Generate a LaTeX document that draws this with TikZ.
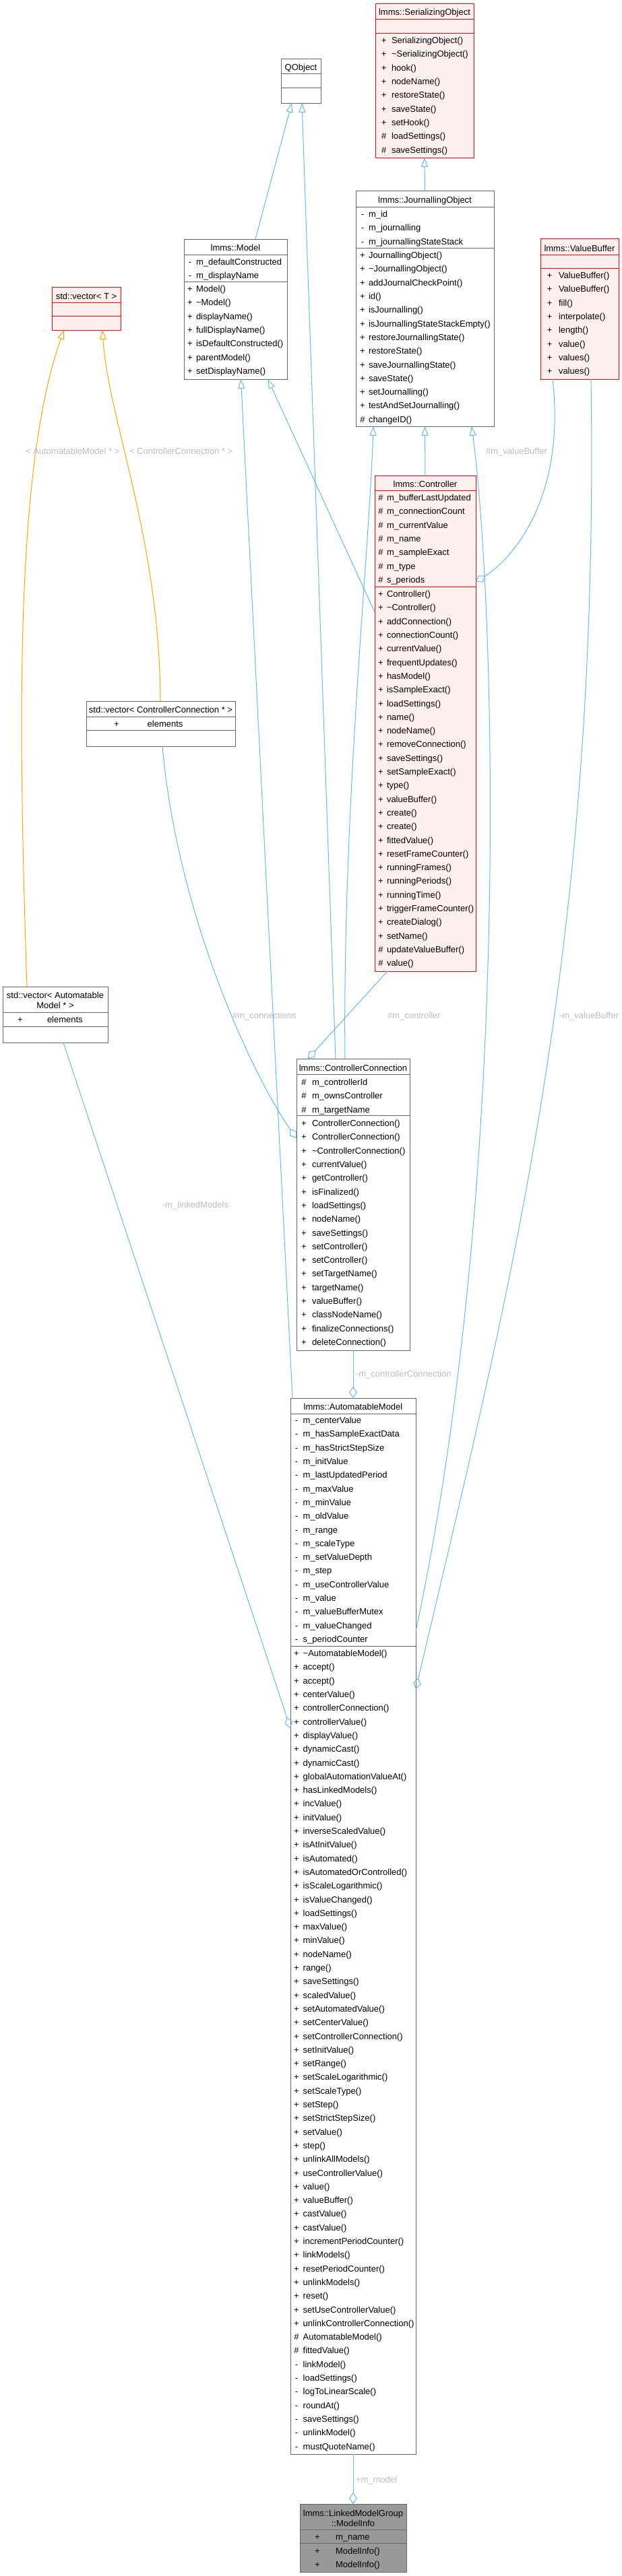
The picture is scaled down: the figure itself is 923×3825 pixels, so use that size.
\documentclass[tikz,border=0pt]{standalone}
\usepackage{fontspec}
\setmainfont{Liberation Sans}
\usetikzlibrary{arrows.meta,calc}
\definecolor{eblue}{HTML}{63B8FF}
\definecolor{eorange}{HTML}{FFA500}
\definecolor{rline}{HTML}{FF0000}
\definecolor{rfill}{HTML}{FFF0F0}
\definecolor{gline}{HTML}{666666}
\definecolor{dfill}{HTML}{999999}
\definecolor{lgray}{HTML}{BEBEBE}
\tikzset{
  ubox/.style={rectangle, line width=1pt, inner sep=0pt, outer sep=0pt},
  boxred/.style={ubox, draw=rline, fill=rfill},
  boxgray/.style={ubox, draw=gline, fill=white},
  boxdark/.style={ubox, draw=gline, fill=dfill},
  sepred/.style={draw=rline, line width=1pt},
  sepgray/.style={draw=gline, line width=1pt},
  rowtxt/.style={inner sep=0pt, outer sep=0pt, font=\fontsize{13}{15}\selectfont},
  lbl/.style={rowtxt, text=lgray},
  edgeb/.style={draw=eblue, line width=1pt},
  inh/.style={edgeb, -{Triangle[open, length=14pt, width=10pt]}},
  agg/.style={edgeb, -{Diamond[open, length=17pt, width=12pt]}},
  tmpl/.style={draw=eorange, line width=1pt, -{Triangle[open, length=14pt, width=10pt]}},
}
% #1 id, #2 style, #3 x1, #4 y1, #5 x2, #6 y2
\newcommand{\umlframe}[6]{\node[#2, anchor=north west, minimum width={(#5-#3)*1pt}, minimum height={(#6-#4)*1pt}] (#1) at (#3,#4) {};}
% #1 style, #2 node, #3 y
\newcommand{\usep}[3]{\draw[#1] (#2.west |- 0,#3) -- (#2.east |- 0,#3);}
% #1 id, #2 sym centre x, #3 name x, #4 first row centre y, #5 pitch, #6 list
\newcommand{\urows}[6]{\foreach[count=\i] \sy/\tx in {#6}{%
  \node[rowtxt, anchor=base] (#1s\i) at (#2,{#4+(\i-1)*#5+4.6}) {\sy};
  \node[rowtxt, anchor=base west] (#1n\i) at (#3,{#4+(\i-1)*#5+4.6}) {\tx};}}
\begin{document}
\begin{tikzpicture}[x=1pt,y=-1pt]
\fill[white] (0,0) rectangle (923,3825);
\useasboundingbox (0,0) rectangle (923,3825);

% ---------- lmms::SerializingObject
\umlframe{so}{boxred}{557}{5}{703}{234}
\node[rowtxt, anchor=base] (sot) at (630,22.6) {lmms::SerializingObject};
\usep{sepred}{so}{28}\usep{sepred}{so}{49}
\urows{som}{569.7}{581}{60}{20.3}{+/SerializingObject(), +/\textasciitilde SerializingObject(), +/hook(), +/nodeName(), +/restoreState(), +/saveState(), +/setHook(), \#/loadSettings(), \#/saveSettings()}

% ---------- QObject
\umlframe{qo}{boxgray}{417}{87}{476}{153}
\node[rowtxt, anchor=base] (qot) at (446.5,104.6) {QObject};
\usep{sepgray}{qo}{109}\usep{sepgray}{qo}{130}

% ---------- lmms::Model
\umlframe{mo}{boxgray}{273}{355}{426}{563}
\node[rowtxt, anchor=base] (mot) at (349.5,372.6) {lmms::Model};
\usep{sepgray}{mo}{378}\usep{sepgray}{mo}{418}
\urows{moa}{282}{291}{389}{20.3}{-/m\_defaultConstructed, -/m\_displayName}
\urows{mom}{282}{291}{429}{20.3}{+/Model(), +/\textasciitilde Model(), +/displayName(), +/fullDisplayName(), +/isDefaultConstructed(), +/parentModel(), +/setDisplayName()}

% ---------- lmms::JournallingObject
\umlframe{jo}{boxgray}{528}{283}{733}{633}
\node[rowtxt, anchor=base] (jot) at (630.5,301.3) {lmms::JournallingObject};
\usep{sepgray}{jo}{307}\usep{sepgray}{jo}{368}
\urows{joa}{538}{547}{318}{20.3}{-/m\_id, -/m\_journalling, -/m\_journallingStateStack}
\urows{jom}{538}{547}{379}{20.3}{+/JournallingObject(), +/\textasciitilde JournallingObject(), +/addJournalCheckPoint(), +/id(), +/isJournalling(), +/isJournallingStateStackEmpty(), +/restoreJournallingState(), +/restoreState(), +/saveJournallingState(), +/saveState(), +/setJournalling(), +/testAndSetJournalling(), \#/changeID()}

% ---------- lmms::ValueBuffer
\umlframe{vb}{boxred}{802}{354}{918}{563}
\node[rowtxt, anchor=base] (vbt) at (860,373.3) {lmms::ValueBuffer};
\usep{sepred}{vb}{378}\usep{sepred}{vb}{398}
\urows{vbm}{815.7}{829}{409}{20.3}{+/ValueBuffer(), +/ValueBuffer(), +/fill(), +/interpolate(), +/length(), +/value(), +/values(), +/values()}

% ---------- std::vector< T >
\umlframe{vt}{boxred}{77}{426}{179}{490}
\node[rowtxt, anchor=base] (vtt) at (128,444.6) {std::vector< T >};
\usep{sepred}{vt}{449}\usep{sepred}{vt}{469}

% ---------- lmms::Controller
\umlframe{ct}{boxred}{556}{706}{706}{1442}
\node[rowtxt, anchor=base] (ctt) at (631,723.2) {lmms::Controller};
\usep{sepred}{ct}{728}\usep{sepred}{ct}{871}
\urows{cta}{565}{574}{739}{20.3}{\#/m\_bufferLastUpdated, \#/m\_connectionCount, \#/m\_currentValue, \#/m\_name, \#/m\_sampleExact, \#/m\_type, \#/s\_periods}
\urows{ctm}{565}{574}{882}{20.3}{+/Controller(), +/\textasciitilde Controller(), +/addConnection(), +/connectionCount(), +/currentValue(), +/frequentUpdates(), +/hasModel(), +/isSampleExact(), +/loadSettings(), +/name(), +/nodeName(), +/removeConnection(), +/saveSettings(), +/setSampleExact(), +/type(), +/valueBuffer(), +/create(), +/create(), +/fittedValue(), +/resetFrameCounter(), +/runningFrames(), +/runningPeriods(), +/runningTime(), +/triggerFrameCounter(), +/createDialog(), +/setName(), \#/updateValueBuffer(), \#/value()}

% ---------- std::vector< ControllerConnection * >
\umlframe{vcc}{boxgray}{128}{1041}{349}{1108}
\node[rowtxt, anchor=base] (vcct) at (238.5,1058.6) {std::vector< ControllerConnection * >};
\usep{sepgray}{vcc}{1064}\usep{sepgray}{vcc}{1084}
\urows{vcca}{173}{218.7}{1075}{20.3}{+/elements}

% ---------- std::vector< AutomatableModel * >
\umlframe{vam}{boxgray}{4}{1465}{160}{1548}
\node[rowtxt, anchor=base] (vamt1) at (82,1482.6) {std::vector< Automatable};
\node[rowtxt, anchor=base] (vamt2) at (82,1497.6) {Model * >};
\usep{sepgray}{vam}{1503}\usep{sepgray}{vam}{1524}
\urows{vama}{30}{70}{1514}{20.3}{+/elements}

% ---------- lmms::ControllerConnection
\umlframe{cc}{boxgray}{440}{1572}{608}{2005}
\node[rowtxt, anchor=base] (cct) at (524,1590.6) {lmms::ControllerConnection};
\usep{sepgray}{cc}{1595}\usep{sepgray}{cc}{1656}
\urows{cca}{451}{463}{1607}{20.3}{\#/m\_controllerId, \#/m\_ownsController, \#/m\_targetName}
\urows{ccm}{451}{463}{1668}{20.3}{+/ControllerConnection(), +/ControllerConnection(), +/\textasciitilde ControllerConnection(), +/currentValue(), +/getController(), +/isFinalized(), +/loadSettings(), +/nodeName(), +/saveSettings(), +/setController(), +/setController(), +/setTargetName(), +/targetName(), +/valueBuffer(), +/classNodeName(), +/finalizeConnections(), +/deleteConnection()}

% ---------- lmms::AutomatableModel
\umlframe{am}{boxgray}{431}{2076}{617}{3644}
\node[rowtxt, anchor=base] (amt) at (524,2093.6) {lmms::AutomatableModel};
\usep{sepgray}{am}{2099}\usep{sepgray}{am}{2444}
\urows{ama}{440}{449.7}{2109}{20.3}{-/m\_centerValue, -/m\_hasSampleExactData, -/m\_hasStrictStepSize, -/m\_initValue, -/m\_lastUpdatedPeriod, -/m\_maxValue, -/m\_minValue, -/m\_oldValue, -/m\_range, -/m\_scaleType, -/m\_setValueDepth, -/m\_step, -/m\_useControllerValue, -/m\_value, -/m\_valueBufferMutex, -/m\_valueChanged, -/s\_periodCounter}
\urows{amm}{440}{449.7}{2455}{20.3}{+/\textasciitilde AutomatableModel(), +/accept(), +/accept(), +/centerValue(), +/controllerConnection(), +/controllerValue(), +/displayValue(), +/dynamicCast(), +/dynamicCast(), +/globalAutomationValueAt(), +/hasLinkedModels(), +/incValue(), +/initValue(), +/inverseScaledValue(), +/isAtInitValue(), +/isAutomated(), +/isAutomatedOrControlled(), +/isScaleLogarithmic(), +/isValueChanged(), +/loadSettings(), +/maxValue(), +/minValue(), +/nodeName(), +/range(), +/saveSettings(), +/scaledValue(), +/setAutomatedValue(), +/setCenterValue(), +/setControllerConnection(), +/setInitValue(), +/setRange(), +/setScaleLogarithmic(), +/setScaleType(), +/setStep(), +/setStrictStepSize(), +/setValue(), +/step(), +/unlinkAllModels(), +/useControllerValue(), +/value(), +/valueBuffer(), +/castValue(), +/castValue(), +/incrementPeriodCounter(), +/linkModels(), +/resetPeriodCounter(), +/unlinkModels(), +/reset(), +/setUseControllerValue(), +/unlinkControllerConnection(), \#/AutomatableModel(), \#/fittedValue(), -/linkModel(), -/loadSettings(), -/logToLinearScale(), -/roundAt(), -/saveSettings(), -/unlinkModel(), -/mustQuoteName()}

% ---------- lmms::LinkedModelGroup::ModelInfo
\umlframe{mi}{boxdark}{445}{3718}{603}{3819}
\node[rowtxt, anchor=base] (mit1) at (524,3736.3) {lmms::LinkedModelGroup};
\node[rowtxt, anchor=base] (mit2) at (524,3751.3) {::ModelInfo};
\usep{sepgray}{mi}{3756}\usep{sepgray}{mi}{3776}
\urows{mia}{471}{498}{3767}{20.3}{+/m\_name}
\urows{mim}{471}{498}{3788}{20.3}{+/ModelInfo(), +/ModelInfo()}

% ---------- inheritance edges
\draw[inh] (jo.north) -- (so.south);
\draw[inh] ($(mo.north west)+(106,0)$) -- ($(qo.south west)+(16,0)$);
\draw[inh] ($(cc.north west)+(58,0)$) -- ($(qo.south west)+(31,0)$);
\draw[inh] ($(cc.north west)+(72,0)$) .. controls (508,1200) and (548,820) .. ($(jo.south west)+(26,0)$);
\draw[inh] (ct.north) -- (jo.south);
\draw[inh] ($(ct.north west)+(0,203)$) -- ($(mo.south west)+(124.5,0)$);
\draw[inh] ($(am.north west)+(3,0)$) -- ($(mo.south west)+(84.5,0)$);
\draw[inh] ($(am.north east)+(0,346)$) .. controls (760,1750) and (735,900) .. ($(jo.south west)+(172,0)$);

% ---------- template edges
\draw[tmpl] ($(vcc.north west)+(110,0)$) .. controls (237,800) and (160,620) .. ($(vt.south west)+(75,0)$);
\draw[tmpl] ($(vam.north west)+(36,0)$) .. controls (28,1100) and (20,700) .. ($(vt.south west)+(18,0)$);
\node[lbl, anchor=base west] (lt1) at (38,674) {< AutomatableModel * >};
\node[lbl, anchor=base west] (lt2) at (192,674) {< ControllerConnection * >};

% ---------- usage edges
\draw[agg] ($(vb.south west)+(18,0)$) .. controls (840,740) and (760,830) .. ($(ct.north east)+(0,158)$);
\node[lbl, anchor=base east] (lvbc) at (812,674) {\#m\_valueBuffer};
\draw[agg] ($(vb.south west)+(75,0)$) .. controls (890,1400) and (760,1900) .. ($(am.north east)+(0,432)$);
\node[lbl, anchor=base west] (lvba) at (830,1512) {-m\_valueBuffer};
\draw[agg] ($(ct.south west)+(19,0)$) -- ($(cc.north west)+(17,0)$);
\node[lbl, anchor=base west] (lctl) at (575,1512.6) {\#m\_controller};
\draw[agg] ($(vcc.south west)+(113,0)$) .. controls (262,1350) and (370,1590) .. ($(cc.north west)+(0,118)$);
\node[lbl, anchor=base west] (lconn) at (345,1512.6) {\#m\_connections};
\draw[agg] (cc.south) -- (am.north);
\node[lbl, anchor=base west] (lccn) at (528,2044.6) {-m\_controllerConnection};
\draw[agg] ($(vam.south west)+(90,0)$) -- ($(am.north west)+(0,490)$);
\node[lbl, anchor=base] (llnk) at (290,1793.6) {-m\_linkedModels};
\draw[agg] (am.south) -- (mi.north);
\node[lbl, anchor=base west] (lmod) at (528,3686.6) {+m\_model};
\end{tikzpicture}
\end{document}
